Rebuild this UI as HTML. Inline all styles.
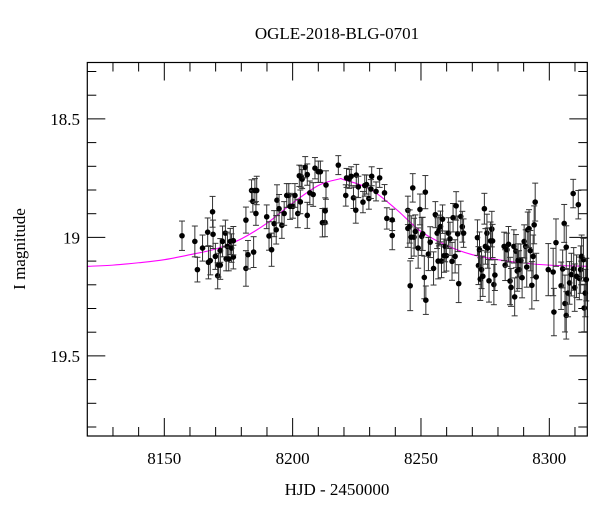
<!DOCTYPE html>
<html><head><meta charset="utf-8"><style>
html,body{margin:0;padding:0;background:#fff;}
svg text{font-family:"Liberation Serif",serif;fill:#000;}
</style></head><body>
<svg id="chart" width="600" height="512" viewBox="0 0 600 512" xmlns="http://www.w3.org/2000/svg">
<text x="337" y="39" font-size="17" text-anchor="middle">OGLE-2018-BLG-0701</text>
<text x="337" y="495" font-size="17" text-anchor="middle">HJD - 2450000</text>
<text x="0" y="0" font-size="17" text-anchor="middle" transform="translate(25,249) rotate(-90)">I magnitude</text>
<g id="axes"></g>
<g id="model"></g>
<g id="points"></g>
<rect x="87.3" y="62.5" width="500" height="373.5" fill="none" stroke="#000" stroke-width="1.2"/>
</svg>
<script>
const xTicks = [8150, 8200, 8250, 8300];
const yTicks = [18.5, 19, 19.5];
const xTickLabels = ["8150", "8200", "8250", "8300"];
const yTickLabels = ["18.5", "19", "19.5"];
const modelDays = [8120,8130,8140,8150,8160,8170,8180,8190,8200,8210,8218,8220,8230,8240,8250,8260,8270,8280,8290,8300,8315];
const modelMags = [19.122,19.117,19.107,19.094,19.073,19.049,19.006,18.940,18.855,18.781,18.754,18.757,18.795,18.878,18.975,19.034,19.073,19.094,19.108,19.117,19.122];
const days = [
8156.9,8161.9,8162.9,8164.9,8166.9,8167.2,8167.9,8168.8,8169.0,8169.9,8170.8,8171.1,8171.8,8171.8,8172.7,8173.8,8174.1,8174.6,8175.1,8175.7,8176.2,8176.9,8176.9,
8181.8,8181.8,8182.6,8184.0,8184.5,8184.8,8185.3,8185.7,8186.0,8189.9,8190.8,8191.8,8192.8,8193.6,8193.9,8194.7,8195.8,8196.7,8197.7,8198.5,8199.0,8200.1,8200.9,8202.0,8202.6,8203.0,8203.3,8203.7,8204.9,8205.7,8205.7,8206.7,8208.0,8208.7,8210.0,8210.8,8211.6,8212.6,8212.7,8213.0,
8217.8,8220.7,8221.0,8222.1,8222.8,8223.7,8224.6,8224.8,8225.6,8227.4,8228.1,8228.8,8229.7,8230.5,8230.8,8232.5,8233.9,8235.8,8236.7,8238.8,8238.8,
8244.9,8244.9,8245.6,8245.8,8246.2,8246.8,8247.3,8247.8,8248.9,8249.6,8250.3,8250.7,8251.3,8251.7,8251.9,8252.9,8253.6,8254.9,8255.6,8256.3,8256.7,8257.0,8257.6,8258.0,8258.4,8259.0,8259.4,8259.9,8260.7,8261.3,8262.1,8262.5,8263.3,8263.7,8264.3,8264.7,8265.5,8266.1,8266.6,
8272.0,8272.4,8272.8,8273.1,8273.6,8274.1,8274.7,8275.1,8275.7,8276.0,8276.5,8277.1,8277.6,8277.9,8278.4,8278.8,
8282.4,8282.8,8283.5,8284.1,8284.7,8285.1,8286.2,8286.5,8287.0,8287.5,8287.8,8288.2,8288.9,8289.4,8290.2,8290.8,8291.2,8291.6,8292.1,8292.6,8293.2,8293.7,8294.1,8294.5,8294.9,
8299.6,8301.5,8301.8,8302.6,8304.6,8305.2,8305.8,8306.1,8306.6,8306.6,8307.3,8307.9,8308.6,8309.3,8309.5,8309.9,8310.6,8311.3,8311.7,8312.2,8312.6,8313.3,8313.6,8314.0,8314.4];
const mags = [
18.993,19.017,19.136,19.045,18.978,19.105,19.098,18.892,18.987,19.080,19.162,19.117,19.117,19.055,19.017,18.982,19.091,19.038,19.091,19.017,19.045,19.083,19.014,
18.927,19.131,19.073,18.802,18.848,19.062,18.802,18.899,18.802,18.913,18.994,19.052,18.942,18.968,18.843,18.879,18.949,18.899,18.823,18.823,18.869,18.869,18.823,18.899,18.740,18.850,18.743,18.754,18.704,18.907,18.735,18.812,18.819,18.708,18.723,18.723,18.938,18.937,18.888,18.779,
18.695,18.823,18.749,18.753,18.742,18.833,18.885,18.737,18.787,18.851,18.781,18.777,18.836,18.796,18.742,18.806,18.749,18.812,18.920,18.992,18.926,
18.886,18.962,18.954,19.204,18.999,18.791,18.999,18.975,19.045,18.882,18.996,18.985,19.169,18.809,19.265,19.070,19.020,19.131,18.904,18.982,19.100,18.971,18.954,19.100,18.923,19.077,19.038,19.077,18.982,19.006,19.101,18.917,19.080,18.867,18.985,19.195,18.912,18.955,18.982,
19.001,19.119,19.052,19.176,19.136,19.164,18.879,19.038,18.982,19.045,19.183,19.015,18.965,19.015,19.199,19.159,
19.038,19.117,19.052,19.029,19.184,19.211,19.038,19.251,19.058,19.142,19.097,19.136,19.098,19.170,19.017,19.038,19.125,18.968,18.963,19.056,19.202,19.080,18.947,18.851,19.167,
19.136,19.146,19.315,19.022,19.204,19.133,18.941,19.279,19.041,19.329,19.235,19.192,19.157,18.815,19.133,19.212,19.164,18.862,19.173,19.136,19.080,19.094,19.298,19.235,19.178];
const errs = [
0.062,0.065,0.052,0.055,0.06,0.07,0.06,0.065,0.06,0.055,0.055,0.05,0.06,0.05,0.065,0.055,0.05,0.06,0.05,0.055,0.06,0.05,0.06,
0.055,0.075,0.06,0.045,0.045,0.065,0.05,0.05,0.06,0.05,0.06,0.07,0.055,0.06,0.065,0.06,0.055,0.05,0.05,0.05,0.055,0.05,0.05,0.06,0.045,0.05,0.045,0.04,0.045,0.055,0.045,0.05,0.05,0.045,0.045,0.045,0.06,0.06,0.055,0.06,
0.04,0.045,0.04,0.04,0.04,0.045,0.055,0.045,0.045,0.045,0.045,0.04,0.045,0.04,0.04,0.04,0.04,0.035,0.045,0.06,0.045,
0.06,0.08,0.07,0.105,0.09,0.06,0.08,0.07,0.085,0.065,0.08,0.07,0.09,0.07,0.06,0.07,0.065,0.07,0.055,0.065,0.075,0.065,0.065,0.07,0.06,0.07,0.065,0.065,0.065,0.07,0.08,0.06,0.07,0.06,0.075,0.08,0.065,0.065,0.06,
0.075,0.08,0.075,0.09,0.08,0.085,0.065,0.075,0.08,0.085,0.09,0.08,0.075,0.07,0.085,0.065,
0.06,0.065,0.07,0.075,0.1,0.08,0.07,0.08,0.07,0.085,0.07,0.08,0.07,0.085,0.07,0.07,0.085,0.075,0.08,0.085,0.1,0.09,0.08,0.08,0.1,
0.11,0.1,0.1,0.1,0.1,0.08,0.08,0.12,0.09,0.1,0.1,0.09,0.09,0.06,0.09,0.1,0.09,0.06,0.09,0.1,0.09,0.09,0.1,0.1,0.09];

const X0 = 87.3, X1 = 587.3, Y0 = 62.5, Y1 = 436;
const DMIN = 8120, DMAX = 8314.8, MTOP = 18.262, MBOT = 19.838;
function xScale(d){ return X0 + (d - DMIN) / (DMAX - DMIN) * (X1 - X0); }
function yScale(m){ return Y0 + (m - MTOP) / (MBOT - MTOP) * (Y1 - Y0); }
const NS = "http://www.w3.org/2000/svg";
function mk(tag, attrs, parent){ const e = document.createElementNS(NS, tag); for (const k in attrs) e.setAttribute(k, attrs[k]); parent.appendChild(e); return e; }

const axes = document.getElementById('axes');
// x minor & major ticks
for (let d = 8130; d <= 8310; d += 10) {
  const x = xScale(d);
  const major = (d % 50 === 0);
  const len = major ? 18 : 9;
  const t1 = mk('line', {x1:x, x2:x, y1:Y1, y2:Y1-len, stroke:'#000', 'stroke-width':1}, axes);
  
  
  const t2 = mk('line', {x1:x, x2:x, y1:Y0, y2:Y0+len, stroke:'#000', 'stroke-width':1}, axes);
  
  
}
xTicks.forEach((d, i) => {
  const t = mk('text', {x:xScale(d), y:464, 'font-size':17, 'text-anchor':'middle'}, axes);
  t.textContent = xTickLabels[i];
  
  
});
for (let k = 3; k <= 18; k++) {
  const m = 18 + k / 10;
  const y = yScale(m);
  const major = (k % 5 === 0);
  const len = major ? 18 : 9;
  const t1 = mk('line', {x1:X0, x2:X0+len, y1:y, y2:y, stroke:'#000', 'stroke-width':1}, axes);
  
  
  const t2 = mk('line', {x1:X1, x2:X1-len, y1:y, y2:y, stroke:'#000', 'stroke-width':1}, axes);
  
  
}
yTicks.forEach((m, i) => {
  const t = mk('text', {x:80, y:yScale(m)+6, 'font-size':17, 'text-anchor':'end'}, axes);
  t.textContent = yTickLabels[i];
  
  
});

// model curve (Catmull-Rom smoothing through sampled points)
const mg = document.getElementById('model');
const P = modelDays.map((d, i) => [xScale(d), yScale(modelMags[i])]);
let dstr = 'M' + P[0][0] + ',' + P[0][1];
for (let i = 0; i < P.length - 1; i++) {
  const p0 = P[Math.max(0, i-1)], p1 = P[i], p2 = P[i+1], p3 = P[Math.min(P.length-1, i+2)];
  const c1x = p1[0] + (p2[0]-p0[0])/6, c1y = p1[1] + (p2[1]-p0[1])/6;
  const c2x = p2[0] - (p3[0]-p1[0])/6, c2y = p2[1] - (p3[1]-p1[1])/6;
  dstr += ' C' + c1x + ',' + c1y + ' ' + c2x + ',' + c2y + ' ' + p2[0] + ',' + p2[1];
}
const curve = mk('path', {d:dstr, fill:'none', stroke:'#ff00ff', 'stroke-width':1.1}, mg);



// data points
const pg = document.getElementById('points');
days.forEach((d, i) => {
  const x = xScale(d), y = yScale(mags[i]);
  const e = (errs[i] !== undefined) ? errs[i] : 0.06;
  const yt = yScale(mags[i] - e), yb = yScale(mags[i] + e);
  const g = mk('g', {}, pg);
  
  
  mk('line', {x1:x, x2:x, y1:yt, y2:yb, stroke:'#333', 'stroke-width':1}, g);
  mk('line', {x1:x-3, x2:x+3, y1:yt, y2:yt, stroke:'#333', 'stroke-width':1}, g);
  mk('line', {x1:x-3, x2:x+3, y1:yb, y2:yb, stroke:'#333', 'stroke-width':1}, g);
  mk('circle', {cx:x, cy:y, r:2.8, fill:'#000'}, g);
});
</script>
</body></html>
